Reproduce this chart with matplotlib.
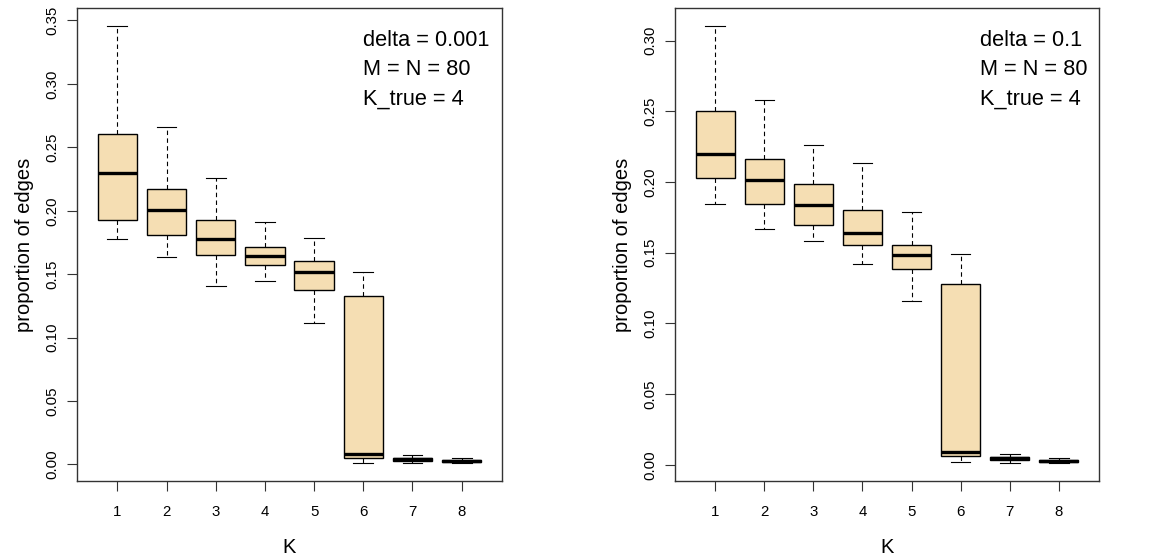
import matplotlib.pyplot as plt

plt.rcParams['font.family'] = ['Liberation Sans', 'DejaVu Sans']

# ---------------------------------------------------------
# DATOS
# ---------------------------------------------------------
k_vals = [1, 2, 3, 4, 5, 6, 7, 8]

# delta = 0.001
izq_whislo = [0.1775, 0.1635, 0.1408, 0.1445, 0.1116, 0.0010, 0.0008, 0.0008]
izq_q1 = [0.1930, 0.1806, 0.1648, 0.1569, 0.1377, 0.0055, 0.0030, 0.0018]
izq_med = [0.2299, 0.2006, 0.1775, 0.1640, 0.1514, 0.0084, 0.0040, 0.0026]
izq_q3 = [0.2607, 0.2175, 0.1925, 0.1711, 0.1603, 0.1330, 0.0053, 0.0034]
izq_whishi = [0.3460, 0.2657, 0.2257, 0.1912, 0.1785, 0.1517, 0.0077, 0.0053]

# delta = 0.1
der_whislo = [0.1848, 0.1669, 0.1582, 0.1419, 0.1157, 0.0019, 0.0010, 0.0010]
der_q1 = [0.2028, 0.1848, 0.1698, 0.1554, 0.1384, 0.0060, 0.0038, 0.0024]
der_med = [0.2195, 0.2018, 0.1837, 0.1639, 0.1485, 0.0090, 0.0047, 0.0031]
der_q3 = [0.2500, 0.2160, 0.1983, 0.1804, 0.1558, 0.1280, 0.0057, 0.0038]
der_whishi = [0.3107, 0.2578, 0.2264, 0.2132, 0.1785, 0.1494, 0.0078, 0.0050]

izq_texto = ["delta = 0.001", "M = N = 80", "K_true = 4"]
der_texto = ["delta = 0.1", "M = N = 80", "K_true = 4"]

izq_yticks = [0.00, 0.05, 0.10, 0.15, 0.20, 0.25, 0.30, 0.35]
der_yticks = [0.00, 0.05, 0.10, 0.15, 0.20, 0.25, 0.30]


# ---------------------------------------------------------
# FUNCIÓN PARA GRAFICAR
# ---------------------------------------------------------
def graficar_cajas(ax, whislo, q1, med, q3, whishi, yticks, lineas, x_texto):

    stats = []
    for i in range(len(k_vals)):
        stats.append(dict(whislo=whislo[i], q1=q1[i], med=med[i],
                          q3=q3[i], whishi=whishi[i], fliers=[]))

    ax.bxp(stats, positions=k_vals, widths=0.8, capwidths=0.4,
           patch_artist=True, showfliers=False,
           boxprops=dict(facecolor="#F5DEB3", edgecolor="black", linewidth=1),
           medianprops=dict(color="black", linewidth=2.4, solid_capstyle="butt"),
           whiskerprops=dict(color="black", linewidth=0.8, linestyle=(0, (4, 3))),
           capprops=dict(color="black", linewidth=0.8))

    lo = min(whislo)
    hi = max(whishi)
    ext = (hi - lo) * 0.04
    ax.set_ylim(lo - ext, hi + ext)
    ax.set_xlim(0.18, 8.82)

    ax.set_xticks(k_vals)
    ax.set_xticklabels([str(k) for k in k_vals])
    ax.set_yticks(yticks)
    ax.set_yticklabels([f"{t:.2f}" for t in yticks])

    ax.tick_params(axis="both", labelsize=10.8, length=7, width=0.8,
                   direction="out", color="#333333")
    ax.tick_params(axis="x", pad=10)
    ax.tick_params(axis="y", labelrotation=90, pad=6)
    for lab in ax.get_yticklabels():
        lab.set_va("center")

    for s in ax.spines.values():
        s.set_color("#333333")
        s.set_linewidth(1)

    ax.set_xlabel("K", fontsize=14.5, labelpad=14)
    ax.set_ylabel("proportion of edges", fontsize=14.5, labelpad=8)

    for j, linea in enumerate(lineas):
        ax.text(x_texto, 0.932 - j * 0.0625, linea, transform=ax.transAxes,
                fontsize=15.7, ha="left", va="center")


# ---------------------------------------------------------
# VISUALIZACIÓN
# ---------------------------------------------------------
fig = plt.figure(figsize=(11.61, 5.6), dpi=100)

ax1 = fig.add_axes([77 / 1161, 79 / 560, 425 / 1161, 473 / 560])
graficar_cajas(ax1, izq_whislo, izq_q1, izq_med, izq_q3, izq_whishi,
               izq_yticks, izq_texto, 0.673)

ax2 = fig.add_axes([675 / 1161, 79 / 560, 424 / 1161, 473 / 560])
graficar_cajas(ax2, der_whislo, der_q1, der_med, der_q3, der_whishi,
               der_yticks, der_texto, 0.719)

plt.savefig("out.png", dpi=100)
